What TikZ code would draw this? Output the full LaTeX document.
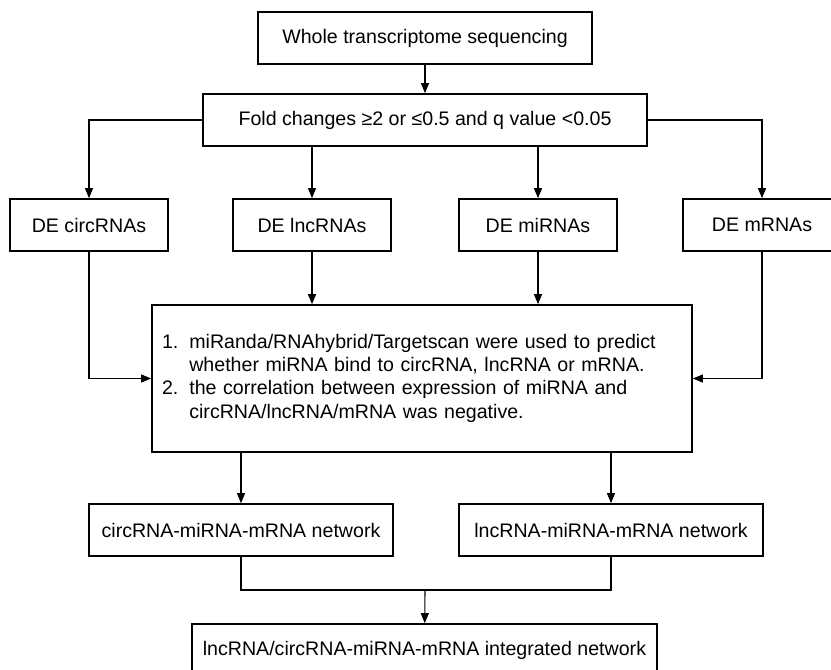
\documentclass[tikz,border=0pt]{standalone}
\usepackage{fontspec}
\setmainfont{Liberation Sans}
\usetikzlibrary{arrows.meta}

\begin{document}
\begin{tikzpicture}[x=1pt, y=-1pt, >={Triangle[length=10pt,width=8pt]},
  line width=1.1pt,
  every node/.style={font=\fontsize{19.6}{23.4}\selectfont},
  box/.style={draw, line width=1.7pt, minimum height=52pt, inner sep=0pt}]
\useasboundingbox (0,0) rectangle (831,670);

\node[box, minimum width=334pt] (seq) at (425,38) {Whole transcriptome sequencing};
\node[box, minimum width=444pt] (fold) at (425,120) {Fold changes ≥2 or ≤0.5 and q value <0.05};

% the four DE sets
\node[box, minimum width=158pt] (circ) at (89,225) {DE circRNAs};
\node[box, minimum width=158pt] (lnc) at (312,225) {DE lncRNAs};
\node[box, minimum width=158pt] (mir) at (538,225) {DE miRNAs};
\node[box, minimum width=158pt] (mrna) at (762,225) {DE mRNAs};

\node[box, text width=520pt, inner xsep=10pt, align=left, minimum height=147pt]
  (rules) at (422,378.5) {%
  \begin{tabular}{@{}l@{\hspace{11pt}}l@{}}
  1. & miRanda/RNAhybrid/Targetscan were used to predict\\
     & whether miRNA bind to circRNA, lncRNA or mRNA.\\
  2. & the correlation between expression of miRNA and\\
     & circRNA/lncRNA/mRNA was negative.
  \end{tabular}};

\node[box, minimum width=304pt] (cnet) at (241,530) {circRNA-miRNA-mRNA network};
\node[box, minimum width=304pt] (lnet) at (611,530) {lncRNA-miRNA-mRNA network};
\node[box, minimum width=465pt] (integ) at (424.5,650) {lncRNA/circRNA-miRNA-mRNA integrated network};

\draw[->] (seq) -- (fold);
\draw[->] (fold.west) -| (circ);
\draw[->] (fold.east) -| (mrna);
\draw[->] (fold.south -| lnc) -- (lnc);
\draw[->] (fold.south -| mir) -- (mir);

\draw[->] (circ) |- (rules);
\draw[->] (mrna) |- (rules);
\draw[->] (lnc) -- (rules.north -| lnc);
\draw[->] (mir) -- (rules.north -| mir);

\draw[->] (rules.south -| cnet) -- (cnet);
\draw[->] (rules.south -| lnet) -- (lnet);

% both networks merge into one
\coordinate (join) at (425,590);
\draw (cnet.south) |- (join) -| (lnet.south);
\draw[->] (join) -- (integ);
\end{tikzpicture}
\end{document}
